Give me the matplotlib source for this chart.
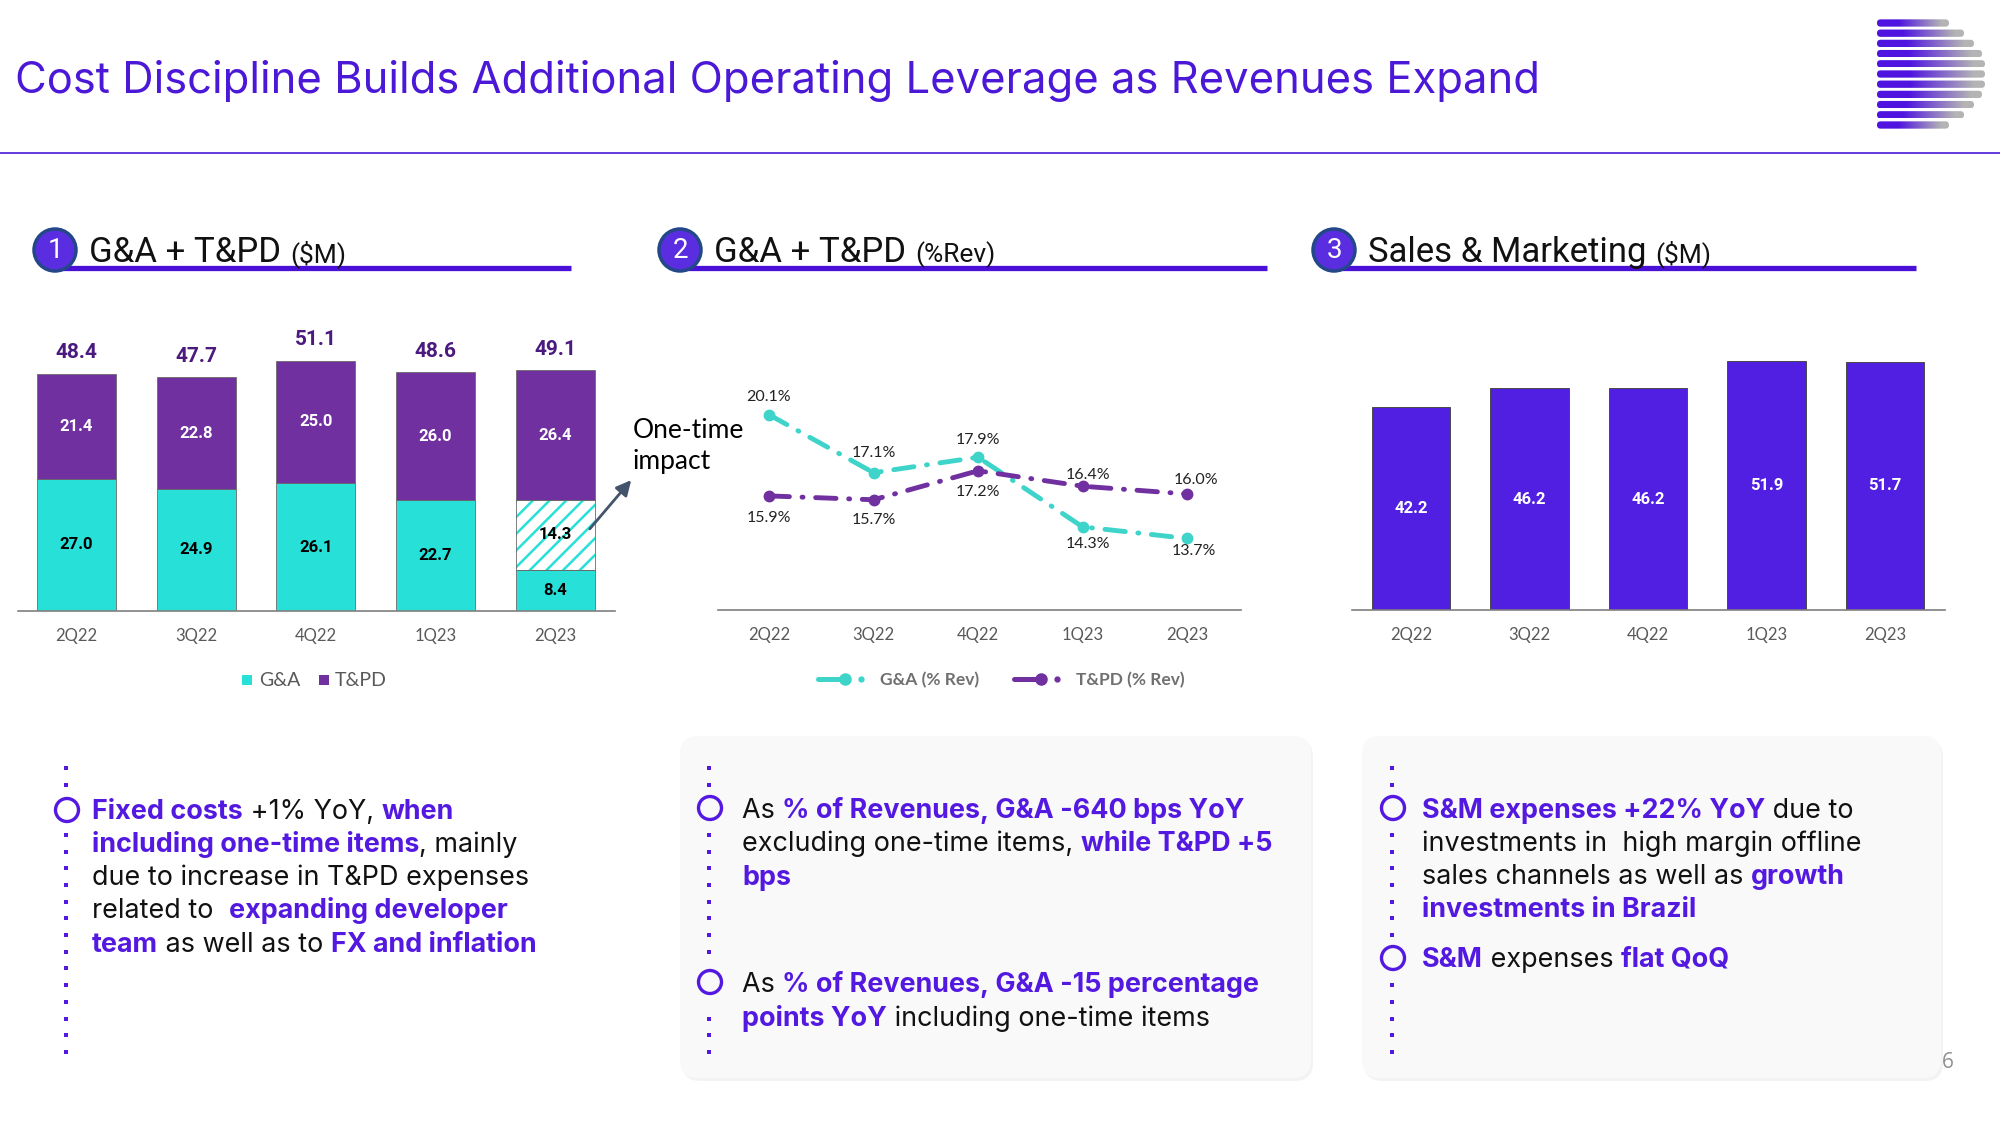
import numpy as np
import matplotlib
matplotlib.use('Agg')
import matplotlib.pyplot as plt
from matplotlib.patches import FancyBboxPatch, Circle, Rectangle

# ---------------- data ----------------
quarters = ['2Q22', '3Q22', '4Q22', '1Q23', '2Q23']
ga_musd = [27.0, 24.9, 26.1, 22.7, 8.4]
ga_one_time_musd = [0.0, 0.0, 0.0, 0.0, 14.3]
tpd_musd = [21.4, 22.8, 25.0, 26.0, 26.4]
total_musd = [48.4, 47.7, 51.1, 48.6, 49.1]
ga_pct_rev = [20.1, 17.1, 17.9, 14.3, 13.7]
tpd_pct_rev = [15.9, 15.7, 17.2, 16.4, 16.0]
sm_musd = [42.2, 46.2, 46.2, 51.9, 51.7]

# ---------------- style ----------------
W, H = 2000, 1125
TITLE_C = '#4b18d8'
HL = '#5319e0'
CYAN = '#27e0d8'
TEAL = '#3fd4c9'
PURPLE = '#7030a0'
SM_C = '#501fe2'
TOT_C = '#4b1a7e'
GRAY_T = '#595959'
BODY = 'Inter'
CHART_F = 'Lato'
NUM_F = 'Roboto'

plt.rcParams['hatch.linewidth'] = 1.8

fig = plt.figure(figsize=(W / 100, H / 100), dpi=100)
fig.patch.set_facecolor('white')
renderer = fig.canvas.get_renderer()


def overlay(z):
    a = fig.add_axes([0, 0, 1, 1], zorder=z)
    a.set_xlim(0, W)
    a.set_ylim(H, 0)
    a.axis('off')
    a.patch.set_visible(False)
    return a


bg = overlay(0)
fg = overlay(10)


def chart_axes(l, r, b, t):
    a = fig.add_axes([l / W, 1 - b / H, (r - l) / W, (b - t) / H], zorder=2)
    a.patch.set_visible(False)
    for s in ['top', 'right', 'left']:
        a.spines[s].set_visible(False)
    a.spines['bottom'].set_color('#7f7f7f')
    a.spines['bottom'].set_linewidth(1.2)
    a.set_yticks([])
    a.tick_params(axis='x', length=0, pad=12, labelsize=12, labelcolor=GRAY_T)
    return a


def set_tick_font(a):
    for lab in a.get_xticklabels():
        lab.set_family(CHART_F)


def text_width(s, **kw):
    t1 = bg.text(0, 0, '|' + s + '|', **kw)
    w1 = t1.get_window_extent(renderer).width
    t1.remove()
    t2 = bg.text(0, 0, '||', **kw)
    w2 = t2.get_window_extent(renderer).width
    t2.remove()
    return w1 - w2


def fit_size(s, target, **kw):
    base = 20.0
    return base * target / text_width(s, fontsize=base, **kw)


# ---------------- title ----------------
title = 'Cost Discipline Builds Additional Operating Leverage as Revenues Expand'
tfs = fit_size(title, 1521, family=BODY)
bg.text(15, 93, title, fontsize=tfs, family=BODY, color=TITLE_C, va='baseline', ha='left')
bg.plot([0, W], [153, 153], color=TITLE_C, lw=1.2)

# logo
logo_ends = [1949, 1964, 1974, 1982, 1985, 1985, 1985, 1982, 1974, 1964, 1949]
p0 = np.array([0x4f, 0x14, 0xe0]) / 255
p1 = np.array([0xb4, 0xb4, 0xb4]) / 255
for k, xe in enumerate(logo_ends):
    yc = 23 + 10.2 * k
    h = 7.3
    tt = np.linspace(0, 1, 200)
    f = np.clip((tt - 0.3) / 0.6, 0, 1)
    grad = (p0[None, :] * (1 - f[:, None]) + p1[None, :] * f[:, None])[None, :, :]
    patch = FancyBboxPatch((1877, yc - h / 2), xe - 1877, h,
                           boxstyle='round,pad=0,rounding_size=3.6',
                           transform=bg.transData, fc='none', ec='none')
    bg.add_patch(patch)
    im = bg.imshow(grad, extent=[1877, xe, yc + h / 2, yc - h / 2], aspect='auto',
                   interpolation='bilinear', zorder=1)
    im.set_clip_path(patch)
bg.set_xlim(0, W)
bg.set_ylim(H, 0)

# ---------------- section headers ----------------
headers = [
    (55, '1', 'G&A + T&PD', '($M)', 571),
    (680, '2', 'G&A + T&PD', '(%Rev)', 1267),
    (1334, '3', 'Sales & Marketing', '($M)', 1916),
]
for cx, num, main, unit, xend in headers:
    bg.plot([cx, xend], [268, 268], color='#4a10d8', lw=3.8, solid_capstyle='butt', zorder=2)
    bg.add_patch(Circle((cx, 250), 21, fc='#5a2ee0', ec='#24478a', lw=2.5, zorder=3))
    bg.text(cx, 251, num, color='white', fontsize=20, family='Roboto',
            ha='center', va='center', zorder=4)
    x0 = cx + 34
    bg.text(x0, 262, main, fontsize=25, family='Roboto', color='#111111',
            va='baseline', ha='left', zorder=4)
    wmain = text_width(main, fontsize=25, family='Roboto')
    bg.text(x0 + wmain + 9, 262, unit, fontsize=19, family='Roboto', color='#111111',
            va='baseline', ha='left', zorder=4)

# ---------------- chart 1: stacked bars ----------------
x = np.arange(len(quarters))
bw = 0.66
ax1 = chart_axes(18, 615, 611, 300)
ga_arr = np.array(ga_musd)
ot_arr = np.array(ga_one_time_musd)
tpd_arr = np.array(tpd_musd)
ax1.bar(x, ga_arr, bw, color=CYAN, edgecolor='#6a6a6a', lw=0.6, zorder=2)
mask = ot_arr > 0
ax1.bar(x[mask], ot_arr[mask], bw, bottom=ga_arr[mask], color='white',
        edgecolor=CYAN, hatch='//', lw=0, zorder=2)
ax1.bar(x[mask], ot_arr[mask], bw, bottom=ga_arr[mask], color='none',
        edgecolor='#6a6a6a', lw=0.6, zorder=3)
ax1.bar(x, tpd_arr, bw, bottom=ga_arr + ot_arr, color=PURPLE, edgecolor='#6a6a6a',
        lw=0.6, zorder=2)
for i in range(len(quarters)):
    ax1.text(x[i], ga_arr[i] / 2, f'{ga_arr[i]:.1f}', ha='center', va='center',
             fontsize=12, fontweight='bold', family=NUM_F, color='black', zorder=5)
    if ot_arr[i] > 0:
        ax1.text(x[i], ga_arr[i] + ot_arr[i] / 2, f'{ot_arr[i]:.1f}', ha='center',
                 va='center', fontsize=12, fontweight='bold', family=NUM_F,
                 color='black', zorder=5)
    ax1.text(x[i], ga_arr[i] + ot_arr[i] + tpd_arr[i] / 2, f'{tpd_arr[i]:.1f}',
             ha='center', va='center', fontsize=12, fontweight='bold',
             family=NUM_F, color='white', zorder=5)
    ax1.annotate(f'{total_musd[i]:.1f}', (x[i], total_musd[i]), xytext=(0, 21),
                 textcoords='offset pixels', ha='center', va='center', fontsize=15,
                 fontweight='bold', family=NUM_F, color=TOT_C)
ax1.set_xlim(-0.489, 4.5)
ax1.set_ylim(0, 63.47)
ax1.set_xticks(x, quarters)
set_tick_font(ax1)

# arrow & annotation
fg.annotate('', xy=(633, 478), xytext=(588, 531),
            arrowprops=dict(arrowstyle='-|>,head_length=0.9,head_width=0.45',
                            color='#44546a', lw=2))
bg.text(633, 431, 'One-time', fontsize=19, family=CHART_F, color='black',
        va='center', ha='left')
bg.text(633, 462, 'impact', fontsize=19, family=CHART_F, color='black',
        va='center', ha='left')

# legend 1
bg.add_patch(Rectangle((242, 675), 10, 10, fc=CYAN, ec='none'))
bg.text(259, 680, 'G&A', fontsize=14, family=CHART_F, color=GRAY_T, va='center')
bg.add_patch(Rectangle((319, 675), 10, 10, fc=PURPLE, ec='none'))
bg.text(335, 680, 'T&PD', fontsize=14, family=CHART_F, color=GRAY_T, va='center')

# ---------------- chart 2: lines ----------------
ax2 = chart_axes(718, 1241, 610, 300)
dash = (4.2, 2.6, 0.2, 2.6)
ax2.plot(x, ga_pct_rev, color=TEAL, lw=3.5, dashes=dash, dash_capstyle='round',
         marker='o', ms=7.5, zorder=3)
ax2.plot(x, tpd_pct_rev, color=PURPLE, lw=3.5, dashes=dash, dash_capstyle='round',
         marker='o', ms=7.5, zorder=3)
ga_off = [(0, 18), (0, 20), (0, 17), (5, -17), (7, -13)]
tpd_off = [(0, -22), (0, -20), (0, -21), (5, 11), (9, 14)]
for i in range(len(quarters)):
    ax2.annotate(f'{ga_pct_rev[i]:.1f}%', (x[i], ga_pct_rev[i]), xytext=ga_off[i],
                 textcoords='offset pixels', ha='center', va='center', fontsize=11.5,
                 family=CHART_F, color='#222222')
    ax2.annotate(f'{tpd_pct_rev[i]:.1f}%', (x[i], tpd_pct_rev[i]), xytext=tpd_off[i],
                 textcoords='offset pixels', ha='center', va='center', fontsize=11.5,
                 family=CHART_F, color='#222222')
ax2.set_xlim(-0.488, 4.516)
ax2.set_ylim(10, 26.03)
ax2.set_xticks(x, quarters)
set_tick_font(ax2)

# legend 2
for (x0, col, lab) in [(818, TEAL, 'G&A (% Rev)'), (1014, PURPLE, 'T&PD (% Rev)')]:
    bg.plot([x0, x0 + 22], [679, 679], color=col, lw=3.6, solid_capstyle='round')
    bg.plot([x0 + 27], [679], 'o', color=col, ms=8)
    bg.plot([x0 + 43], [679], 'o', color=col, ms=3.5)
    bg.text(x0 + 62, 680, lab, fontsize=12.5, family=CHART_F, color='#707070',
            va='center', fontweight='bold')

# ---------------- chart 3: bars ----------------
ax3 = chart_axes(1352, 1945, 610, 300)
sm_arr = np.array(sm_musd)
ax3.bar(x, sm_arr, bw, color=SM_C, edgecolor='#4a4a4a', lw=0.7, zorder=2)
for i in range(len(quarters)):
    ax3.text(x[i], sm_arr[i] / 2, f'{sm_arr[i]:.1f}', ha='center', va='center',
             fontsize=12, fontweight='bold', family=NUM_F, color='white', zorder=5)
ax3.set_xlim(-0.498, 4.506)
ax3.set_ylim(0, 64.6)
ax3.set_xticks(x, quarters)
set_tick_font(ax3)

# ---------------- text panels ----------------
for (l, t, r, b) in [(680, 736, 1311, 1078), (1362, 736, 1941, 1078)]:
    bg.add_patch(FancyBboxPatch((l + 2, t + 3), r - l, b - t,
                                boxstyle='round,pad=0,rounding_size=18',
                                fc='#efefef', ec='none', alpha=0.7, zorder=0.5))
    bg.add_patch(FancyBboxPatch((l, t), r - l, b - t,
                                boxstyle='round,pad=0,rounding_size=18',
                                fc='#f9f9f9', ec='none', zorder=0.6))

body_fs = fit_size('due to increase in T&PD expenses', 436, family=BODY)


def draw_runs(x0, y, runs):
    xx = x0
    for s, bold in runs:
        kw = dict(fontsize=body_fs, family=BODY,
                  fontweight='bold' if bold else 'normal',
                  color=HL if bold else '#111111')
        bg.text(xx, y, s, va='baseline', ha='left', zorder=3, **kw)
        xx += text_width(s, **kw)


def dotted(xc, y0, y1, bullets):
    ys = np.arange(y0, y1 + 1, 16.7)
    ys = [yy for yy in ys if all(abs(yy - bb) > 22 for bb in bullets)]
    bg.plot([xc] * len(ys), ys, 's', color=HL, ms=2.8, mew=0, zorder=3)
    for bb in bullets:
        bg.add_patch(Circle((xc + 1, bb), 11.5, fc='none', ec=HL, lw=2.4, zorder=3))


# panel 1
dotted(66, 768, 1054, [810])
p1_lines = [
    (819, [('Fixed costs', True), (' +1% YoY, ', False), ('when', True)]),
    (852, [('including one-time items', True), (', mainly', False)]),
    (885, [('due to increase in T&PD expenses', False)]),
    (918, [('related to  ', False), ('expanding developer', True)]),
    (952, [('team', True), (' as well as to ', False), ('FX and inflation', True)]),
]
for y, runs in p1_lines:
    draw_runs(92, y, runs)

# panel 2
dotted(709, 768, 1054, [808, 982])
p2_lines = [
    (818, [('As ', False), ('% of Revenues, G&A -640 bps YoY', True)]),
    (851, [('excluding one-time items, ', False), ('while T&PD +5', True)]),
    (885, [('bps', True)]),
    (992, [('As ', False), ('% of Revenues, G&A -15 percentage', True)]),
    (1026, [('points YoY', True), (' including one-time items', False)]),
]
for y, runs in p2_lines:
    draw_runs(742, y, runs)

# panel 3
dotted(1392, 768, 1054, [808, 958])
p3_lines = [
    (818, [('S&M expenses +22% YoY', True), (' due to', False)]),
    (851, [('investments in  high margin offline', False)]),
    (884, [('sales channels as well as ', False), ('growth', True)]),
    (917, [('investments in Brazil', True)]),
    (967, [('S&M', True), (' expenses ', False), ('flat QoQ', True)]),
]
for y, runs in p3_lines:
    draw_runs(1422, y, runs)

fg.text(1948, 1063, '6', fontsize=15, family='Open Sans', color='#909090',
        ha='center', va='center')

fig.savefig('out.png', dpi=100, facecolor='white')
